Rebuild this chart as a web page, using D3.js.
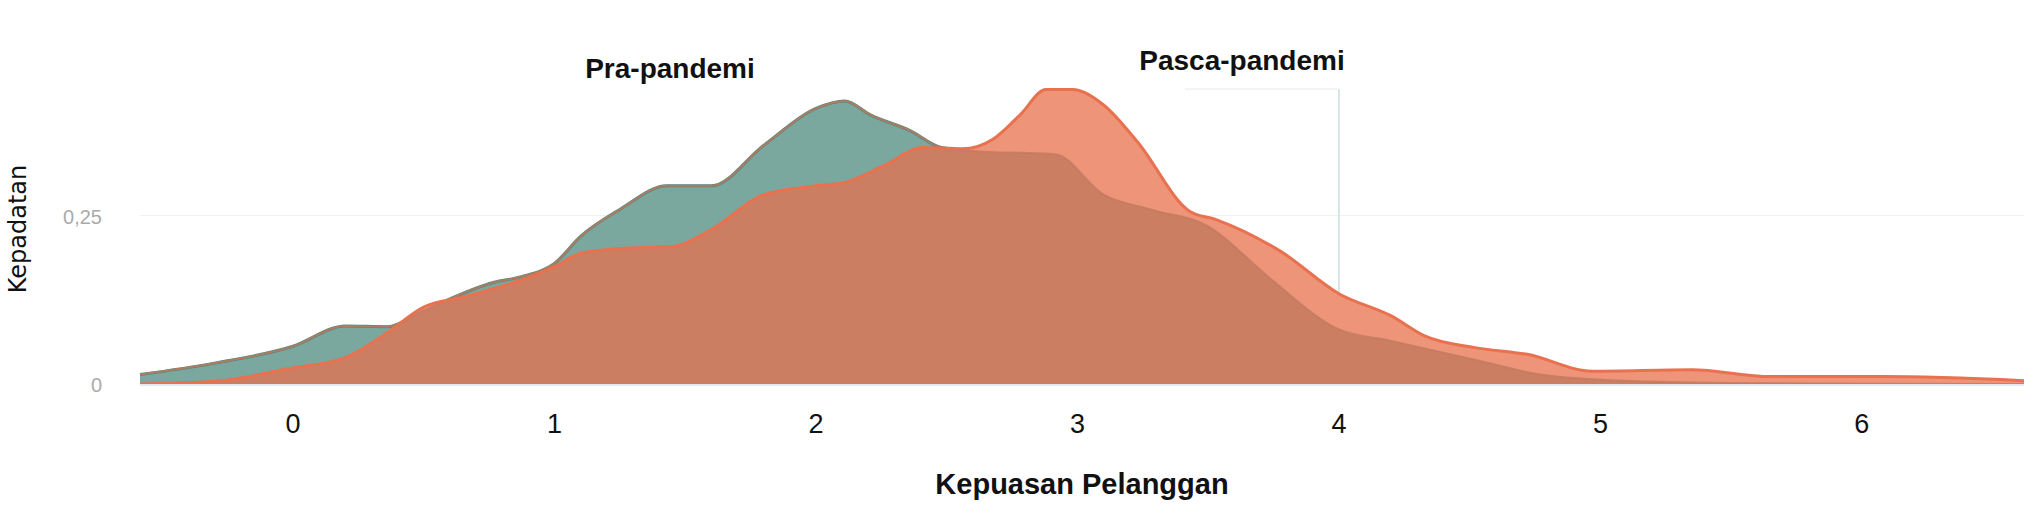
<!DOCTYPE html>
<html><head><meta charset="utf-8">
<script src="https://cdn.jsdelivr.net/npm/d3@7"></script>
<style>body{margin:0;background:#fff}svg{display:block}</style>
</head><body><svg id="c" width="2043" height="528"></svg>
<script>
const praX = [-0.585,-0.3,0,0.2,0.36,0.5,0.77,0.87,1.0,1.1,1.25,1.43,1.6,1.8,2.0,2.11,2.21,2.36,2.48,2.68,2.78,2.915,3.1,3.28,3.5,3.73,4.0,4.2,4.52,4.77,5.02,5.5,6.0,6.62];
const praY = [0.014,0.031,0.056,0.086,0.085,0.109,0.151,0.159,0.179,0.219,0.259,0.294,0.294,0.354,0.409,0.42,0.399,0.376,0.351,0.344,0.343,0.341,0.281,0.259,0.234,0.159,0.081,0.064,0.036,0.014,0.006,0.0015,0.0005,0];
const pascaX = [-0.585,-0.3,0,0.2,0.36,0.5,0.65,1.0,1.1,1.25,1.45,1.6,1.8,2.0,2.11,2.26,2.41,2.56,2.68,2.78,2.88,2.98,3.1,3.23,3.43,3.53,3.78,4.0,4.2,4.33,4.52,4.72,4.97,5.35,5.65,6.08,6.62];
const pascaY = [0,0.004,0.024,0.039,0.076,0.114,0.129,0.174,0.194,0.201,0.204,0.229,0.281,0.294,0.299,0.324,0.351,0.349,0.364,0.399,0.437,0.437,0.414,0.359,0.256,0.244,0.196,0.134,0.101,0.071,0.054,0.044,0.019,0.021,0.011,0.011,0.005];
const xTicks = [0,1,2,3,4,5,6];
const yTicks = [0,0.25];
const yTickLabels = ["0","0,25"];
const seriesNames = ["Pra-pandemi","Pasca-pandemi"];

const svg = d3.select("#c");
const x = d3.scaleLinear().domain([-0.585,6.62]).range([140,2024]);
const y = d3.scaleLinear().domain([0,0.25]).range([384,215.5]);
const pra = praX.map((v,i)=>[v,praY[i]]);
const pasca = pascaX.map((v,i)=>[v,pascaY[i]]);
const curve = d3.curveMonotoneX;
const area = d3.area().x(d=>x(d[0])).y0(y(0)).y1(d=>y(d[1])).curve(curve);
const line = d3.line().x(d=>x(d[0])).y(d=>y(d[1])).curve(curve);

// grid
svg.selectAll(".g").data(yTicks).join("line").attr("x1",140).attr("x2",2024)
  .attr("y1",d=>y(d)).attr("y2",d=>y(d)).attr("stroke","#eef1f6").attr("stroke-width",1);
svg.append("line").attr("x1",x(4)).attr("x2",x(4)).attr("y1",89).attr("y2",y(0)).attr("stroke","#d6e6e4").attr("stroke-width",2);
svg.append("line").attr("x1",1185).attr("x2",x(4)).attr("y1",89).attr("y2",89).attr("stroke","#eef0f2").attr("stroke-width",1.5);

svg.append("clipPath").attr("id","gclip").append("path").attr("d",area(pra));
svg.append("path").attr("d",area(pra)).attr("fill","#7ba89e");
svg.append("path").attr("d",line(pra)).attr("fill","none").attr("stroke","#4f877b").attr("stroke-width",3);
svg.append("path").attr("d",area(pasca)).attr("fill","#ee9478");
svg.append("path").attr("d",area(pasca)).attr("fill","#cc7e62").attr("clip-path","url(#gclip)");
svg.append("path").attr("d",line(pra)).attr("fill","none").attr("stroke","#c27a62").attr("stroke-width",2).attr("opacity",0.8);
svg.append("path").attr("d",line(pasca)).attr("fill","none").attr("stroke","#e8714f").attr("stroke-width",3);
svg.append("line").attr("x1",140).attr("x2",2024).attr("y1",y(0)+1).attr("y2",y(0)+1).attr("stroke","#e4e8f0").attr("stroke-width",2);

// axes text
svg.selectAll(".xt").data(xTicks).join("text").attr("x",d=>x(d)).attr("y",433)
  .attr("text-anchor","middle").attr("font-family","Liberation Sans, Arial").attr("font-size",27).attr("fill","#111").text(d=>d);
svg.selectAll(".yt").data(yTicks).join("text").attr("x",102).attr("y",d=>y(d)+8)
  .attr("text-anchor","end").attr("font-family","Liberation Sans, Arial").attr("font-size",20).attr("fill","#aaa").text((d,i)=>yTickLabels[i]);
svg.append("text").attr("transform","translate(26,229) rotate(-90)").attr("text-anchor","middle")
  .attr("font-family","DejaVu Sans, sans-serif").attr("font-size",24).attr("fill","#111").text("Kepadatan");
svg.append("text").attr("x",1082).attr("y",494).attr("text-anchor","middle").attr("font-family","Liberation Sans, Arial")
  .attr("font-weight","bold").attr("font-size",29).attr("fill","#111").text("Kepuasan Pelanggan");
svg.append("text").attr("x",670).attr("y",78).attr("text-anchor","middle").attr("font-family","Liberation Sans, Arial")
  .attr("font-weight","bold").attr("font-size",28).attr("fill","#111").text(seriesNames[0]);
svg.append("text").attr("x",1242).attr("y",70).attr("text-anchor","middle").attr("font-family","Liberation Sans, Arial")
  .attr("font-weight","bold").attr("font-size",28).attr("fill","#111").text(seriesNames[1]);
</script></body></html>
